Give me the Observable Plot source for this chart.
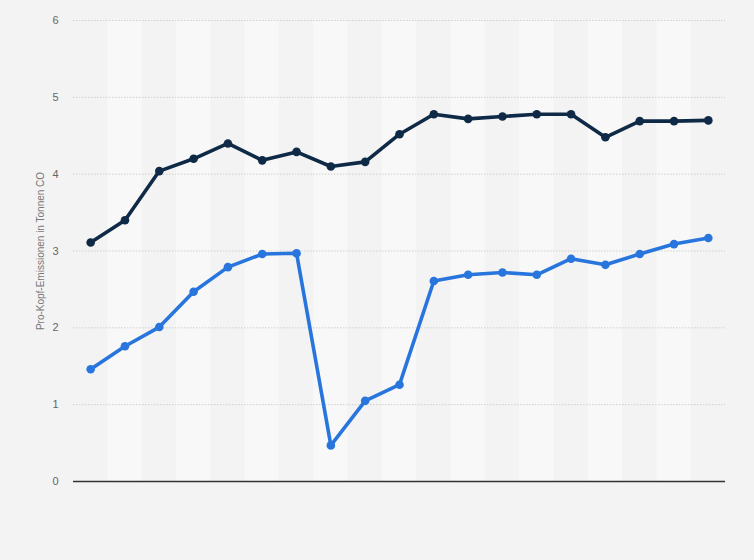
<!DOCTYPE html>
<html>
<head>
<meta charset="utf-8">
<script src="https://cdn.jsdelivr.net/npm/d3@7"></script>
<script src="https://cdn.jsdelivr.net/npm/@observablehq/plot@0.6"></script>
<style>
  html, body { margin: 0; padding: 0; background: #f3f3f3; }
  #chart { width: 754px; height: 560px; }
</style>
</head>
<body>
<div id="chart"></div>
<script>
// Categories (no labels shown in the reference): 19 periods
const periods = [0, 1, 2, 3, 4, 5, 6, 7, 8, 9, 10, 11, 12, 13, 14, 15, 16, 17, 18];
// Series values (tonnes per capita)
const seriesDark = [3.11, 3.40, 4.04, 4.20, 4.40, 4.18, 4.29, 4.10, 4.16, 4.52, 4.78, 4.72, 4.75, 4.78, 4.78, 4.48, 4.69, 4.69, 4.70];
const seriesBlue = [1.46, 1.76, 2.01, 2.47, 2.79, 2.96, 2.97, 0.47, 1.05, 1.26, 2.61, 2.69, 2.72, 2.69, 2.90, 2.82, 2.96, 3.09, 3.17];
const yTicks = [0, 1, 2, 3, 4, 5, 6];
const yLabel = "Pro-Kopf-Emissionen in Tonnen CO";

const dark = periods.map((p, i) => ({p, v: seriesDark[i]}));
const blue = periods.map((p, i) => ({p, v: seriesBlue[i]}));
const bands = periods.filter(p => p % 2 === 1);

const chart = Plot.plot({
  width: 754,
  height: 560,
  marginLeft: 73,
  marginRight: 29,
  marginTop: 20,
  marginBottom: 79,
  style: {background: "#f3f3f3", fontFamily: "'Liberation Sans', Arial, sans-serif", fontSize: "11px"},
  x: {domain: [-0.5, 18.5], axis: null},
  y: {domain: [0, 6], ticks: yTicks, label: null},
  marks: [
    Plot.rectY(bands, {x1: d => d - 0.5, x2: d => d + 0.5, y1: 0, y2: 6, fill: "#f8f8f8"}),
    Plot.gridY(yTicks.filter(t => t > 0), {stroke: "#cfcfcf", strokeOpacity: 1, strokeDasharray: "1.5,1.5", strokeWidth: 1}),
    Plot.axisY({ticks: yTicks, tickFormat: d3.format("d"), tickSize: 0, tickPadding: 15, fill: "#666", fontSize: 11, label: null}),
    Plot.text([yLabel], {frameAnchor: "left", rotate: -90, dx: -33, fill: "#777", fontSize: 10, textAnchor: "middle"}),
    Plot.ruleY([0], {stroke: "#333", strokeWidth: 1.3}),
    Plot.line(dark, {x: "p", y: "v", stroke: "#0e2a47", strokeWidth: 3.6}),
    Plot.dot(dark, {x: "p", y: "v", fill: "#0e2a47", r: 4.3}),
    Plot.line(blue, {x: "p", y: "v", stroke: "#2876dd", strokeWidth: 3.6}),
    Plot.dot(blue, {x: "p", y: "v", fill: "#2876dd", r: 4.3})
  ]
});
document.getElementById("chart").appendChild(chart);
</script>
</body>
</html>
